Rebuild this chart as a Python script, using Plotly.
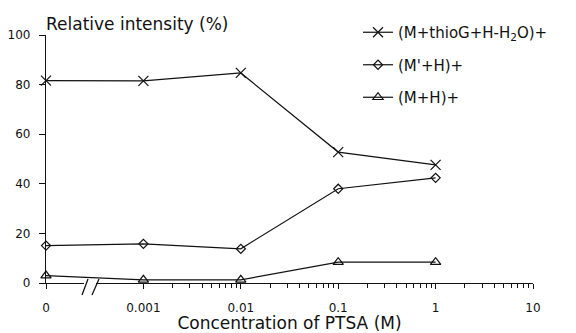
import plotly.graph_objects as go

# PTSA concentrations (M); 0 is shown on the broken part of the log axis
conc = [0, 0.001, 0.01, 0.1, 1]
ZERO_POS = 1e-4  # where "0" sits on the log axis, one decade left of 0.001

thio_vals = [81.6, 81.5, 84.7, 52.8, 47.6]    # (M+thioG+H-H2O)+
mprime_vals = [15.1, 15.8, 13.8, 38.0, 42.4]  # (M'+H)+
mh_vals = [3.0, 1.3, 1.3, 8.4, 8.4]           # (M+H)+

series_names = ["(M+thioG+H-H<sub>2</sub>O)+", "(M'+H)+", "(M+H)+"]
series_symbols = ["x-thin-open", "diamond-open", "triangle-up-open"]
series_sizes = [10, 7, 9]

x_tick_vals = [ZERO_POS, 0.001, 0.01, 0.1, 1, 10]
x_tick_text = ["0", "0.001", "0.01", "0.1", "1", "10"]
x_minor_vals = [k * 10.0 ** e for e in range(-3, 1) for k in range(2, 10)]
y_tick_vals = [0, 20, 40, 60, 80, 100]

INK = "#111111"
FONT = "DejaVu Sans"

x_plot = [c if c > 0 else ZERO_POS for c in conc]

fig = go.Figure()
for name, vals, sym, size in zip(series_names,
                                 [thio_vals, mprime_vals, mh_vals],
                                 series_symbols, series_sizes):
    fig.add_trace(go.Scatter(
        x=x_plot, y=vals, name=name, legendgroup=name,
        mode="lines+markers",
        line=dict(color=INK, width=1.2),
        marker=dict(symbol=sym, size=size, color=INK,
                    line=dict(color=INK, width=1.2)),
        cliponaxis=False,
    ))

W, H = 576, 333
ML, MR, MT, MB = 46, 43, 35, 50
plot_w = W - ML - MR
plot_h = H - MT - MB


def px_to_paper_x(px):
    return (px - ML) / plot_w


def px_to_paper_y(py):
    return (H - MB - py) / plot_h


# break marks on the x axis between 0 and 0.001
break_shapes = [
    dict(type="rect", xref="paper", yref="paper",
         x0=px_to_paper_x(84), x1=px_to_paper_x(96),
         y0=px_to_paper_y(285), y1=px_to_paper_y(281),
         fillcolor="white", line=dict(width=0), layer="above"),
    dict(type="line", xref="paper", yref="paper",
         x0=px_to_paper_x(82), y0=px_to_paper_y(295),
         x1=px_to_paper_x(88), y1=px_to_paper_y(279),
         line=dict(color=INK, width=1.3), layer="above"),
    dict(type="line", xref="paper", yref="paper",
         x0=px_to_paper_x(92), y0=px_to_paper_y(295),
         x1=px_to_paper_x(99), y1=px_to_paper_y(279),
         line=dict(color=INK, width=1.3), layer="above"),
]

fig.update_layout(
    width=W, height=H,
    margin=dict(l=ML, r=MR, t=MT, b=MB, autoexpand=False),
    paper_bgcolor="white", plot_bgcolor="white",
    font=dict(family=FONT, color=INK, size=12),
    showlegend=True,
    legend=dict(
        x=px_to_paper_x(358), xanchor="left",
        y=px_to_paper_y(16), yanchor="top",
        font=dict(family=FONT, size=15, color=INK),
        bgcolor="rgba(0,0,0,0)", borderwidth=0,
        tracegroupgap=10, itemwidth=30,
    ),
    shapes=break_shapes,
    annotations=[dict(
        text="Relative intensity (%)", xref="paper", yref="paper",
        x=px_to_paper_x(44), xanchor="left",
        y=px_to_paper_y(24), yanchor="middle",
        showarrow=False, font=dict(family=FONT, size=17, color=INK),
    )],
)

fig.update_xaxes(
    type="log", range=[-4, 1], automargin=False,
    tickmode="array", tickvals=x_tick_vals, ticktext=x_tick_text,
    ticks="outside", ticklen=5, tickwidth=1.2, tickcolor=INK,
    ticklabelstandoff=8,
    minor=dict(tickmode="array", tickvals=x_minor_vals, ticks="outside",
               ticklen=4, tickwidth=1, tickcolor=INK, showgrid=False),
    showline=True, linecolor=INK, linewidth=1.3,
    showgrid=False, zeroline=False,
    tickfont=dict(family=FONT, size=12, color=INK),
    title=dict(text="Concentration of PTSA (M)", standoff=7,
               font=dict(family=FONT, size=17, color=INK)),
)

fig.update_yaxes(
    range=[0, 100], tickvals=y_tick_vals, automargin=False,
    ticks="outside", ticklen=6, tickwidth=1.2, tickcolor=INK,
    ticklabelstandoff=6,
    showline=True, linecolor=INK, linewidth=1.3,
    showgrid=False, zeroline=False,
    tickfont=dict(family=FONT, size=12, color=INK),
)

fig.write_html("out.html")
